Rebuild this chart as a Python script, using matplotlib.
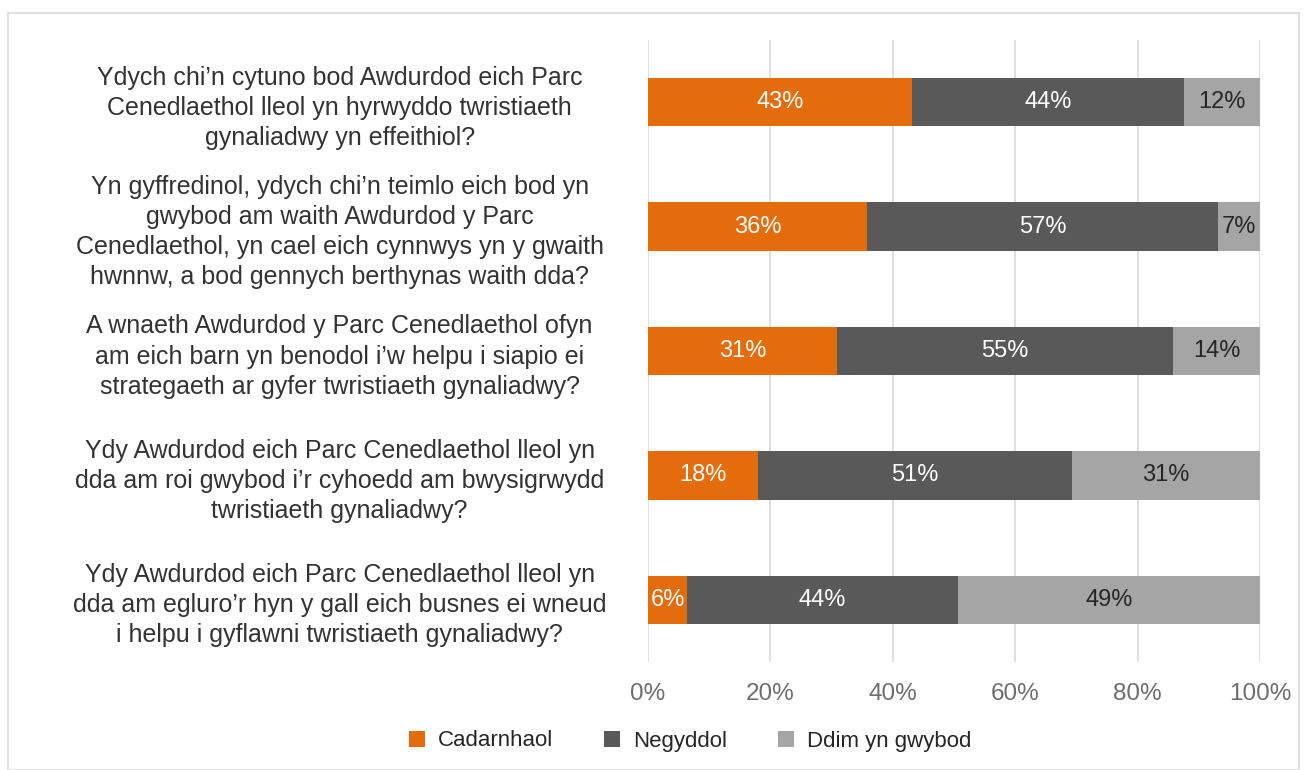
import matplotlib
matplotlib.use("Agg")
import matplotlib.pyplot as plt
from matplotlib.patches import Rectangle

plt.rcParams['font.family'] = ['Liberation Sans', 'DejaVu Sans']

questions = [
    "Ydych chi’n cytuno bod Awdurdod eich Parc\nCenedlaethol lleol yn hyrwyddo twristiaeth\ngynaliadwy yn effeithiol?",
    "Yn gyffredinol, ydych chi’n teimlo eich bod yn\ngwybod am waith Awdurdod y Parc\nCenedlaethol, yn cael eich cynnwys yn y gwaith\nhwnnw, a bod gennych berthynas waith dda?",
    "A wnaeth Awdurdod y Parc Cenedlaethol ofyn\nam eich barn yn benodol i’w helpu i siapio ei\nstrategaeth ar gyfer twristiaeth gynaliadwy?",
    "Ydy Awdurdod eich Parc Cenedlaethol lleol yn\ndda am roi gwybod i’r cyhoedd am bwysigrwydd\ntwristiaeth gynaliadwy?",
    "Ydy Awdurdod eich Parc Cenedlaethol lleol yn\ndda am egluro’r hyn y gall eich busnes ei wneud\ni helpu i gyflawni twristiaeth gynaliadwy?",
]
series_names = ["Cadarnhaol", "Negyddol", "Ddim yn gwybod"]
cadarnhaol = [43.2, 35.8, 30.9, 18.0, 6.4]
negyddol = [44.4, 57.4, 54.9, 51.3, 44.2]
ddim = [12.4, 6.8, 14.2, 30.7, 49.4]
x_ticks = [0, 20, 40, 60, 80, 100]
x_tick_labels = ["0%", "20%", "40%", "60%", "80%", "100%"]

colors = ["#E46C0A", "#595959", "#A5A5A5"]
label_colors = ["white", "white", "#262626"]

W, H = 1307, 770
fig = plt.figure(figsize=(W / 100, H / 100), dpi=100)
fig.patches.append(Rectangle((8 / W, 0), (W - 16) / W, (H - 13) / H, transform=fig.transFigure,
                             fill=False, edgecolor="#D9D9D9", linewidth=1.2))
ax = fig.add_axes([648 / W, (H - 662) / H, (1260 - 648) / W, (662 - 40) / H])

ypos = list(range(len(questions)))
left = [0] * len(questions)
for vals, name, col, lc in zip([cadarnhaol, negyddol, ddim], series_names, colors, label_colors):
    bars = ax.barh(ypos, vals, left=left, height=0.39, color=col, label=name, zorder=3)
    for b, v in zip(bars, vals):
        ax.text(b.get_x() + b.get_width() / 2, b.get_y() + b.get_height() / 2, f"{round(v)}%",
                ha="center", va="center", color=lc, fontsize=17, zorder=4)
    left = [l + v for l, v in zip(left, vals)]

ax.set_xlim(0, 100)
ax.set_ylim(len(questions) - 0.5, -0.5)
ax.set_xticks(x_ticks)
ax.set_xticklabels(x_tick_labels)
ax.set_yticks(ypos)
ax.set_yticklabels(questions, ha="center", multialignment="center", fontsize=18, color="#333333",
                   linespacing=1.32)
ax.tick_params(axis="y", length=0, pad=222)
ax.tick_params(axis="x", length=0, pad=15, labelsize=17.5, labelcolor="#6E6E6E")
ax.grid(axis="x", color="#D9D9D9", linewidth=1.2, zorder=0)
for s in ax.spines.values():
    s.set_visible(False)

fig.legend(loc="center", bbox_to_anchor=(690 / W, 1 - 741 / H), ncol=3, frameon=False,
           fontsize=16, handlelength=0.72, handleheight=0.72, handletextpad=0.58, columnspacing=2.3,
           labelcolor="#262626")

fig.savefig("out.png", dpi=100, facecolor="white")
